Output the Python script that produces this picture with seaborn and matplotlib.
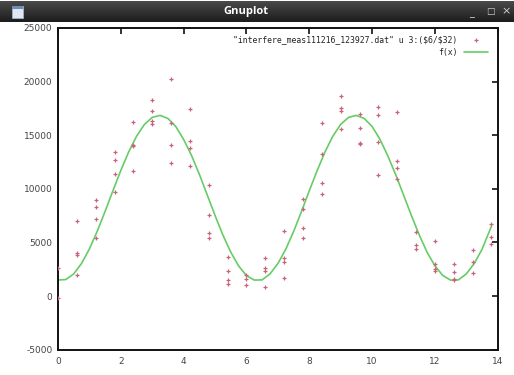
import matplotlib
matplotlib.use("Agg")
import matplotlib.pyplot as plt
import seaborn as sns
import numpy as np
import pandas as pd
from matplotlib.patches import Rectangle

# ---------------- data ----------------
x_positions = [0.0, 0.6, 1.2, 1.8, 2.4, 3.0, 3.6, 4.2, 4.8, 5.4, 6.0, 6.6,
               7.2, 7.8, 8.4, 9.0, 9.6, 10.2, 10.8, 11.4, 12.0, 12.6, 13.2, 13.8]
y_groups = [
    [2600, -200],
    [7000, 4000, 3800, 1950],
    [9000, 8300, 7200, 5450],
    [13400, 12700, 11350, 9700],
    [16200, 14100, 14000, 11650],
    [18300, 17300, 16300, 16000],
    [20250, 16150, 14100, 12400],
    [17450, 14500, 13800, 12150],
    [10400, 7550, 5850, 5400],
    [3600, 2300, 1500, 1100],
    [1950, 1600, 1050],
    [3500, 2650, 2300, 800],
    [6100, 3550, 3150, 1650],
    [9050, 8150, 6300, 5450],
    [16150, 13250, 10550, 9500],
    [18700, 17550, 17250, 15550],
    [17000, 15650, 14250, 14150],
    [17650, 16850, 14400, 11300],
    [17150, 12600, 11900, 10900],
    [6000, 4800, 4350],
    [5100, 3000, 2500, 2300],
    [3000, 2200, 1600, 1500],
    [4250, 3150, 2100],
    [6700, 5500, 4850],
]

fit_x = [0.0, 0.25, 0.5, 0.75, 1.0, 1.25, 1.5, 1.75, 2.0, 2.25, 2.5, 2.75, 3.0,
         3.25, 3.5, 3.75, 4.0, 4.25, 4.5, 4.75, 5.0, 5.25, 5.5, 5.75, 6.0,
         6.25, 6.5, 6.75, 7.0, 7.25, 7.5, 7.75, 8.0, 8.25, 8.5, 8.75, 9.0,
         9.25, 9.5, 9.75, 10.0, 10.25, 10.5, 10.75, 11.0, 11.25, 11.5, 11.75,
         12.0, 12.25, 12.5, 12.75, 13.0, 13.25, 13.5, 13.8]
fit_y = [1488, 1537, 2064, 3036, 4392, 6044, 7898, 9826, 11711, 13436, 14898,
         16001, 16659, 16848, 16560, 15814, 14601, 13122, 11360, 9441, 7518,
         5691, 4097, 2807, 1903, 1483, 1505, 2061, 3021, 4350, 6006, 7862,
         9811, 11686, 13434, 14902, 16008, 16660, 16849, 16564, 15812, 14631,
         13077, 11337, 9436, 7526, 5709, 4091, 2820, 1919, 1481, 1503, 2059,
         3017, 4344, 6500]

x_ticks = [0, 2, 4, 6, 8, 10, 12, 14]
y_ticks = [-5000, 0, 5000, 10000, 15000, 20000, 25000]

data_label = '"interfere_meas111216_123927.dat" u 3:($6/$32)'
fit_label = 'f(x)'

# ---------------- build table ----------------
pts_x, pts_y = [], []
for xv, ys in zip(x_positions, y_groups):
    for yv in ys:
        pts_x.append(xv)
        pts_y.append(yv)
df_pts = pd.DataFrame({"x": pts_x, "y": pts_y})
df_fit = pd.DataFrame({"x": fit_x, "y": fit_y})

# ---------------- figure ----------------
sns.set_style("white")
plt.rcParams["font.family"] = ["DejaVu Sans"]
plt.rcParams["axes.unicode_minus"] = False

W, H = 514, 375
fig = plt.figure(figsize=(W / 100, H / 100), dpi=100)
fig.patch.set_facecolor("white")

# window title bar
bar = fig.add_axes([0, 1 - 22 / H, 1, 21 / H])
grad = np.linspace(0, 1, 50).reshape(-1, 1)
bar.imshow(grad, aspect="auto", cmap=matplotlib.colors.LinearSegmentedColormap.from_list(
    "tb", ["#4a4a4a", "#1c1c1c"]), extent=[0, 1, 0, 1])
bar.set_axis_off()
bar.text(246 / W, 0.5, "Gnuplot", color="white", fontsize=8, fontweight="bold",
         ha="center", va="center", transform=bar.transAxes, family=["Open Sans", "DejaVu Sans"])
bar.add_patch(Rectangle((12 / W, 0.2), 11 / W, 0.55, transform=bar.transAxes,
                        facecolor="#dfe8f2", edgecolor="#9fb3c8", lw=0.6))
bar.add_patch(Rectangle((12 / W, 0.62), 11 / W, 0.13, transform=bar.transAxes,
                        facecolor="#6b8fb8", edgecolor="none"))
bar.text(472 / W, 0.42, "_", color="#cfcfcf", fontsize=7, ha="center", va="center",
         transform=bar.transAxes)
bar.text(490 / W, 0.5, "□", color="#cfcfcf", fontsize=6.5, ha="center", va="center",
         transform=bar.transAxes)
bar.text(506 / W, 0.5, "×", color="#cfcfcf", fontsize=8, ha="center", va="center",
         transform=bar.transAxes)

# plot area
L, R, T, B = 58, 497.7, 28, 349.6
ax = fig.add_axes([L / W, 1 - B / H, (R - L) / W, (B - T) / H])

sns.scatterplot(data=df_pts, x="x", y="y", ax=ax, marker="+", s=11, linewidth=0.9,
                color="#c8647a", label=data_label.replace("$", r"\$"), zorder=3)
sns.lineplot(data=df_fit, x="x", y="y", ax=ax, color="#66cc66", lw=1.2,
             label=fit_label, zorder=2)

ax.set_xlim(0, 14)
ax.set_ylim(-5000, 25000)
ax.set_xticks(x_ticks)
ax.set_yticks(y_ticks)
ax.set_xticklabels([str(v) for v in x_ticks])
ax.set_yticklabels([str(v) for v in y_ticks])
ax.set_xlabel("")
ax.set_ylabel("")
for sp in ax.spines.values():
    sp.set_visible(True)
    sp.set_color("#111111")
    sp.set_linewidth(1.4)
ax.tick_params(axis="both", which="major", direction="in", length=4, width=1.2,
               color="#111111", top=True, right=True, labelsize=6.5,
               labelcolor="#444444")
ax.tick_params(axis="x", pad=5)
ax.tick_params(axis="y", pad=4)

leg = ax.legend(loc="upper right", bbox_to_anchor=(0.99, 0.995), frameon=False,
                markerfirst=False, handlelength=2.9, handletextpad=0.8,
                labelspacing=0.45, borderpad=0.2,
                prop={"family": "DejaVu Sans Mono", "size": 5.9})
for t in leg.get_texts():
    t.set_color("#222222")

fig.savefig("out.png", dpi=100)
